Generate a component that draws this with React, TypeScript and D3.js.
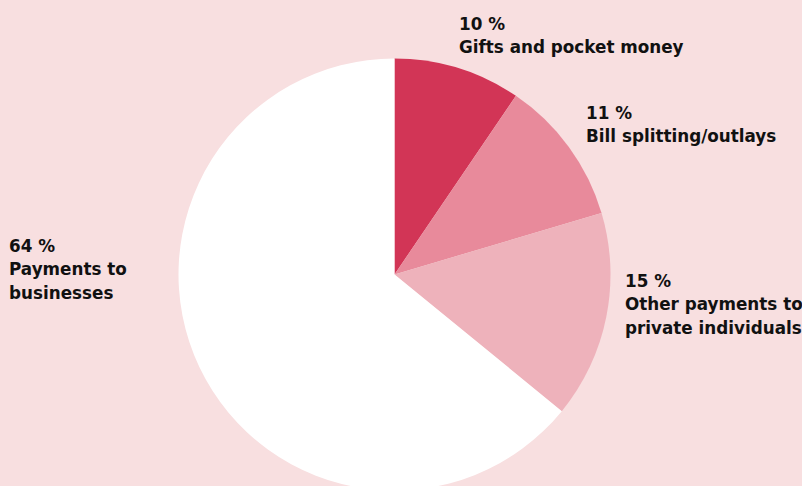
import React from "react";
import * as d3 from "d3";

const categories = ["Gifts and pocket money", "Bill splitting/outlays", "Other payments to private individuals", "Payments to businesses"];
// slice shares (labels show rounded percentages)
const values = [9.5, 10.9, 15.5, 64.1];
const colors = ["#D23556", "#E88A9B", "#EEB2BB", "#FFFFFF"];
const labelLines = [
  ["10 %", "Gifts and pocket money"],
  ["11 %", "Bill splitting/outlays"],
  ["15 %", "Other payments to", "private individuals"],
  ["64 %", "Payments to", "businesses"],
];
const labelPos: [number, number][] = [
  [459, 30],
  [586, 119],
  [625, 287],
  [9, 252],
];

export default function App() {
  const W = 802, H = 486;
  const cx = 394.5, cy = 274.5, r = 216;
  const pie = d3.pie<number>().sort(null).value((d) => d);
  const arcs = pie(values);
  const arc = d3.arc<d3.PieArcDatum<number>>().innerRadius(0).outerRadius(r);
  return (
    <div style={{ position: "fixed", left: 0, top: 0 }}>
      <svg width={W} height={H} style={{ display: "block" }}>
        <rect width={W} height={H} fill="#F8DFE0" />
        <g transform={`translate(${cx},${cy})`}>
          {arcs.map((a, i) => (
            <path key={categories[i]} d={arc(a) || ""} fill={colors[i]} />
          ))}
        </g>
        {labelLines.map((lines, i) => (
          <text key={i} x={labelPos[i][0]} y={labelPos[i][1]} fontFamily="'DejaVu Sans', sans-serif" fontWeight={700} fontSize={16.8} fill="#111">
            {lines.map((l, j) => (
              <tspan key={j} x={labelPos[i][0]} dy={j === 0 ? 0 : 23.3}>{l}</tspan>
            ))}
          </text>
        ))}
      </svg>
    </div>
  );
}
